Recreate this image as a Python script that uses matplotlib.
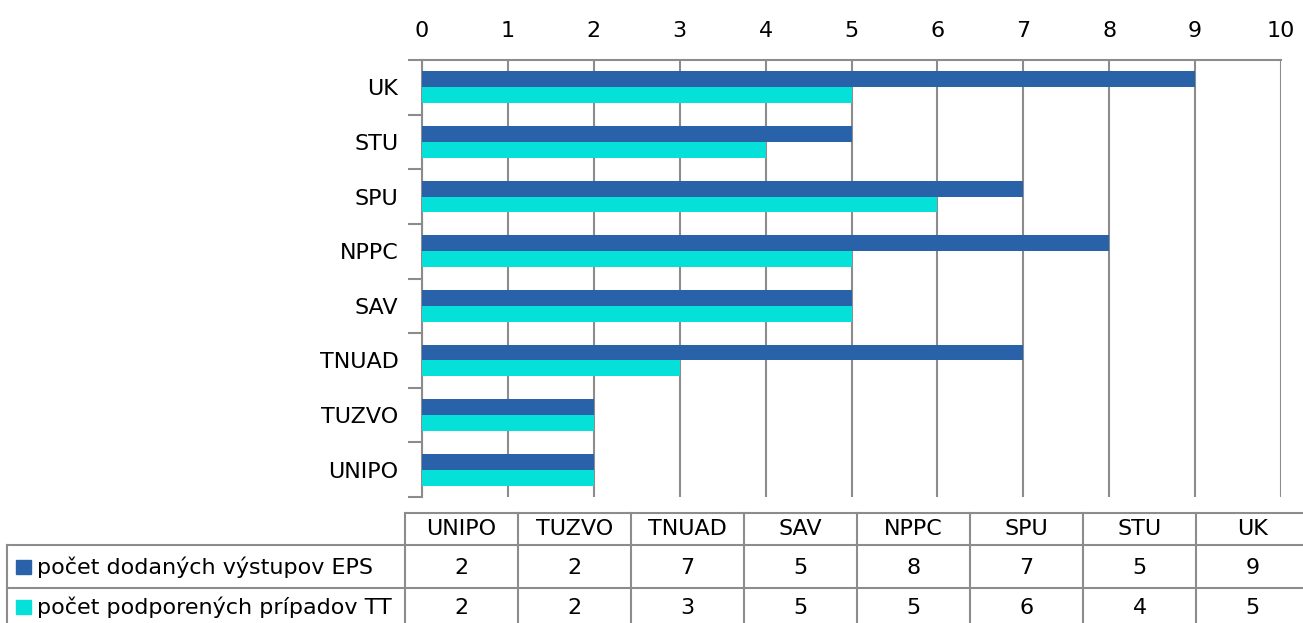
import matplotlib.pyplot as plt
import numpy as np
from matplotlib.lines import Line2D
from matplotlib.patches import Rectangle

# categories bottom -> top (as in the table order)
CATEGORIES = ["UNIPO", "TUZVO", "TNUAD", "SAV", "NPPC", "SPU", "STU", "UK"]
EPS_OUTPUTS = [2, 2, 7, 5, 8, 7, 5, 9]
TT_CASES = [2, 2, 3, 5, 5, 6, 4, 5]
SERIES_LABELS = ["počet dodaných výstupov EPS", "počet podporených prípadov TT"]
X_TICKS = list(range(0, 11))

DARK = "#2A62A9"
CYAN = "#05E0D8"
GRID = "#8C8C8C"
BORDER = "#8C8C8C"

W, H = 1303, 623
plt.rcParams["font.family"] = ["DejaVu Sans"]
FS = 16

fig = plt.figure(figsize=(W / 100, H / 100), dpi=100)

# main bar axes, placed in pixel coordinates
left, right, top, bottom = 422, 1281, 60, 497
ax = fig.add_axes([left / W, 1 - bottom / H, (right - left) / W, (bottom - top) / H])

y = np.arange(len(CATEGORIES))
bh = 0.29
ax.barh(y + bh / 2, EPS_OUTPUTS, height=bh, color=DARK, zorder=3)
ax.barh(y - bh / 2, TT_CASES, height=bh, color=CYAN, zorder=3)

ax.set_xlim(0, 10)
ax.set_ylim(-0.5, len(CATEGORIES) - 0.5)
ax.xaxis.tick_top()
ax.set_xticks(X_TICKS)
ax.set_xticklabels([str(t) for t in X_TICKS], fontsize=FS)
ax.tick_params(axis="x", length=0, pad=14)
ax.set_yticks(y)
ax.set_yticklabels(CATEGORIES, fontsize=FS)
ax.tick_params(axis="y", length=0, pad=17)
ax.set_yticks(np.arange(-0.5, len(CATEGORIES)), minor=True)
ax.tick_params(axis="y", which="minor", length=10, width=1.5, color=BORDER)
ax.grid(axis="x", color=GRID, linewidth=1.5, zorder=0)
for side in ("bottom", "right"):
    ax.spines[side].set_visible(False)
for side in ("left", "top"):
    ax.spines[side].set_color(BORDER)
    ax.spines[side].set_linewidth(1.5)

# data table below, drawn on a full-figure overlay in pixel units
tab = fig.add_axes([0, 0, 1, 1])
tab.set_xlim(0, W)
tab.set_ylim(H, 0)
tab.axis("off")

col0, colw = 405, 113
row_lines = [513, 545, 588, 626]
box_left = 7
ncol = len(CATEGORIES)
col_right = col0 + ncol * colw

lw = 1.5
tab.add_line(Line2D([col0, col_right], [row_lines[0]] * 2, color=BORDER, lw=lw))
for ry in row_lines[1:]:
    tab.add_line(Line2D([box_left, col_right], [ry] * 2, color=BORDER, lw=lw))
tab.add_line(Line2D([box_left, box_left], [row_lines[1], row_lines[3]], color=BORDER, lw=lw))
for i in range(ncol + 1):
    x = col0 + i * colw
    tab.add_line(Line2D([x, x], [row_lines[0], row_lines[3]], color=BORDER, lw=lw))

for i, cat in enumerate(CATEGORIES):
    cx = col0 + (i + 0.5) * colw
    tab.text(cx, 529, cat, ha="center", va="center", fontsize=FS)
    tab.text(cx, 568, str(EPS_OUTPUTS[i]), ha="center", va="center", fontsize=FS)
    tab.text(cx, 608, str(TT_CASES[i]), ha="center", va="center", fontsize=FS)

for ry, color, label in zip([567, 607], [DARK, CYAN], SERIES_LABELS):
    tab.add_patch(Rectangle((16, ry - 7), 15, 14, color=color))
    tab.text(37, ry, label, ha="left", va="center", fontsize=FS)

fig.savefig("out.png", dpi=100)
